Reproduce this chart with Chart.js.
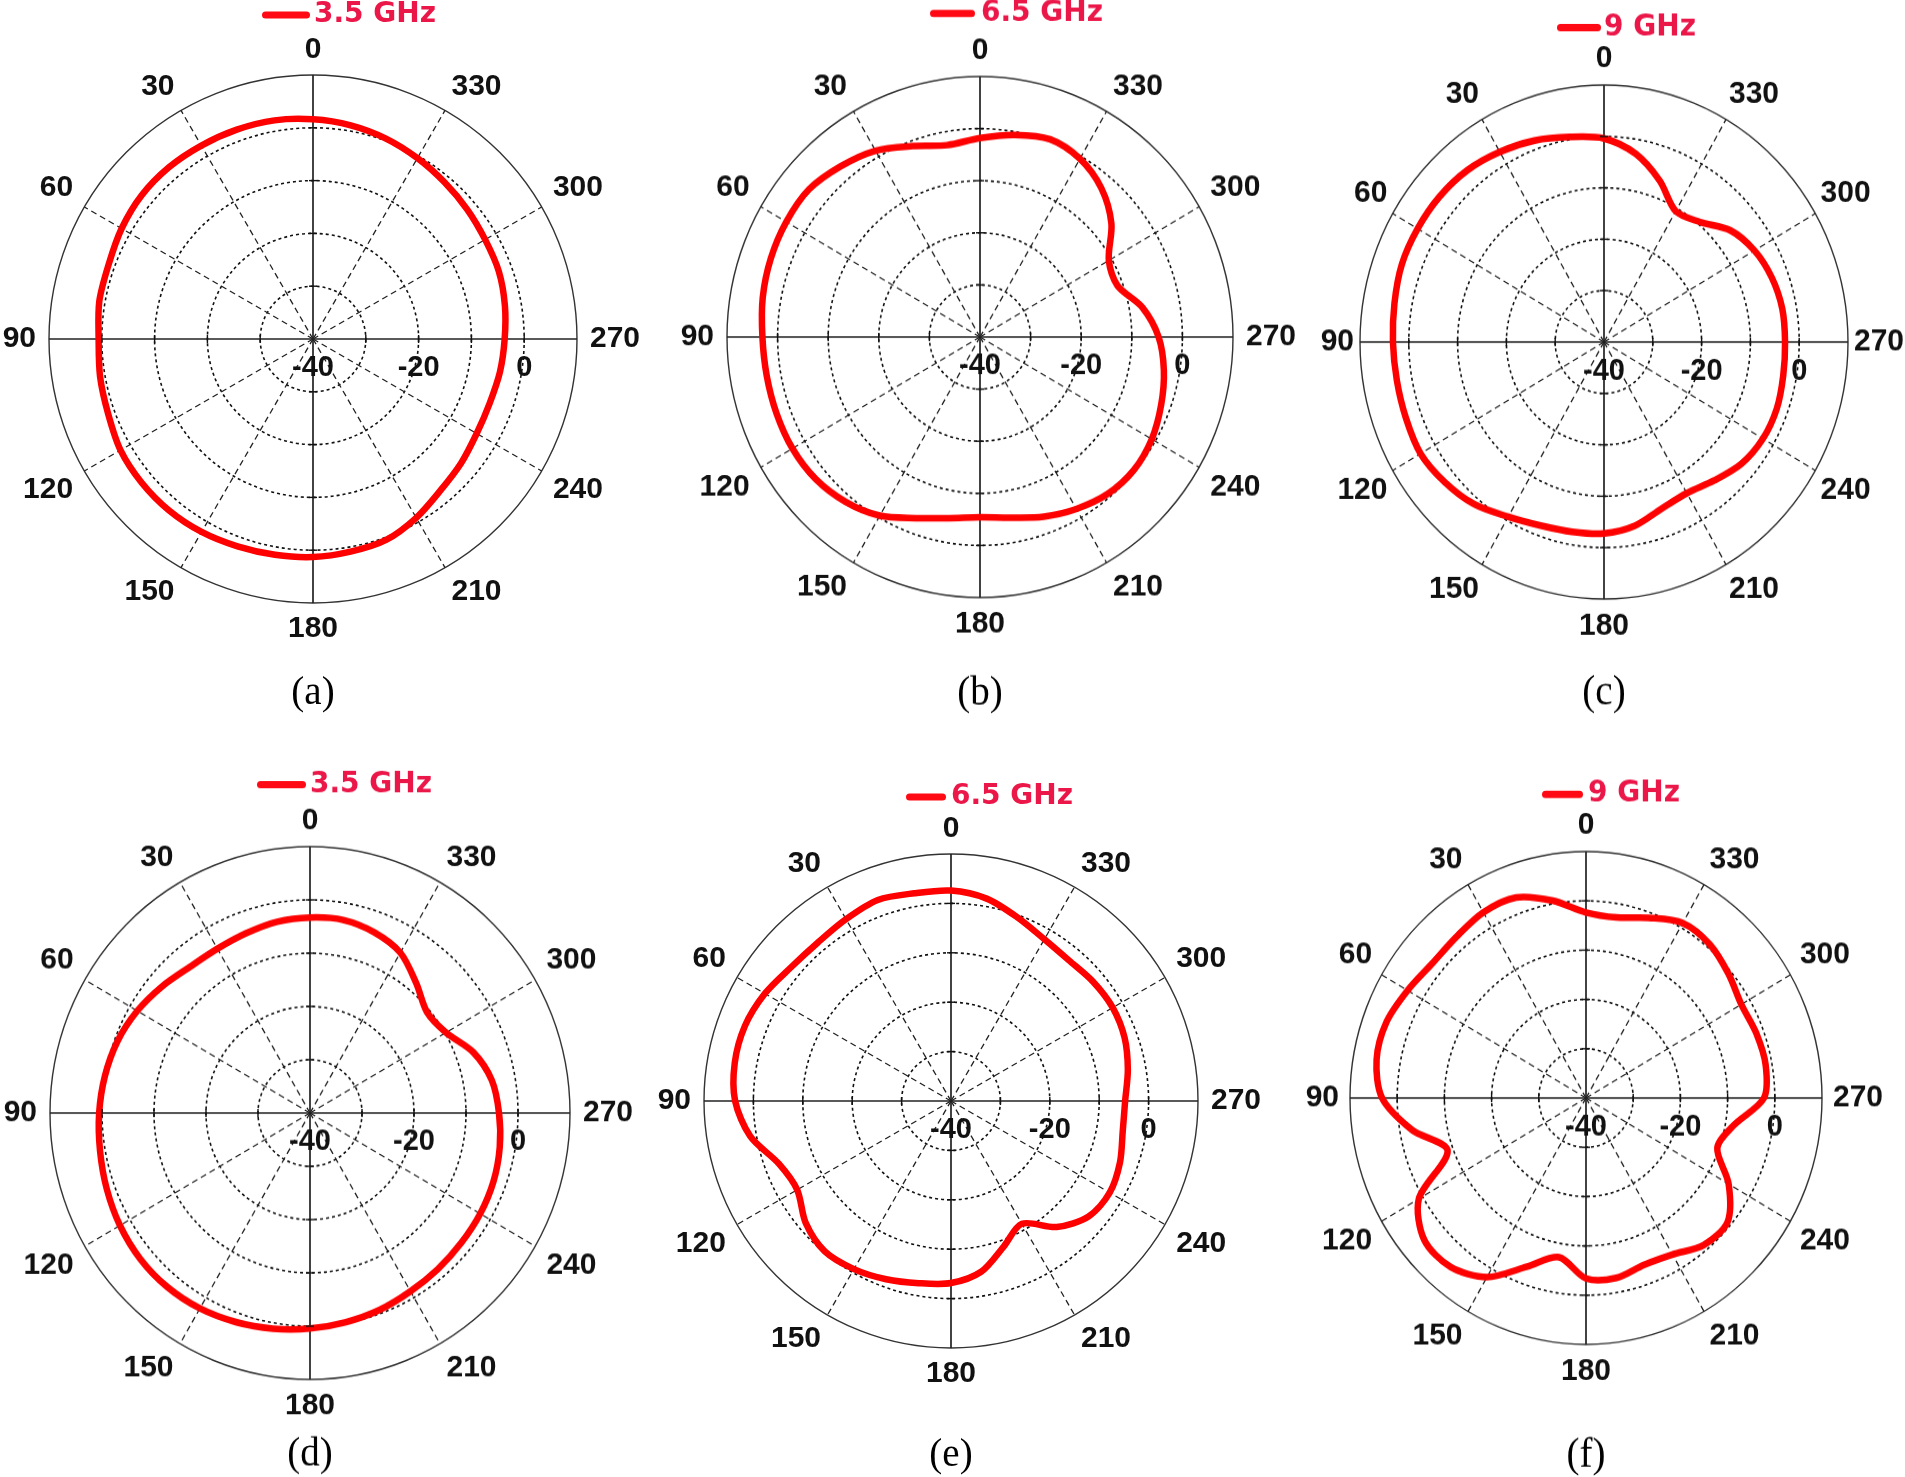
<!DOCTYPE html>
<html>
<head>
<meta charset="utf-8">
<script src="https://cdn.jsdelivr.net/npm/chart.js@4.4.1/dist/chart.umd.min.js"></script>
<style>
  html, body { margin: 0; padding: 0; background: #fff; overflow: hidden; }
  #page { position: relative; width: 1905px; height: 1477px; overflow: hidden; background: #fff; }
  .panel { position: absolute; }
  .panel canvas { display: block; }
</style>
</head>
<body>
<div id="page"></div>
<script>
// Angles in degrees, counter-clockwise from the top (0 = up, 90 = left, 270 = right)
const angles = [0, 10, 20, 30, 40, 50, 60, 70, 80, 90, 100, 110, 120, 130, 140, 150, 160, 170,
                180, 190, 200, 210, 220, 230, 240, 250, 260, 270, 280, 290, 300, 310, 320, 330, 340, 350];

const gainA = [1.6, 2.05, 2.2, 2.3, 2.45, 2.35, 1.85, 1.2, 1.1, 0.6, 0.95, 1.3, 2.1, 2.35, 2.4, 2.2, 1.8, 1.5,
               1.3, 0.9, 0.5, -0.9, -2.5, -3.4, -4.2, -4.4, -4.05, -3.7, -3.1, -2.55, -2.35, -1.85, -1.25, -0.45, 0.4, 1.1];
const gainB = [-1.8, -2.6, -1.0, 1.3, 2.8, 4.1, 4.2, 4.0, 3.6, 3.0, 2.8, 2.8, 2.8, 2.4, 1.3, -0.4, -3.0, -4.7,
               -5.4, -4.8, -3.3, -1.9, -0.7, -0.3, -0.8, -1.9, -3.1, -4.7, -7.4, -11.1, -10.6, -6.1, -2.7, -0.5, 0.4, -0.6];
const gainC = [-0.4, 0.5, 1.7, 2.7, 3.6, 4.0, 4.1, 4.1, 3.6, 3.25, 3.1, 3.2, 3.4, 2.5, 1.25, -0.75, -2.0, -2.5,
               -2.75, -3.7, -5.5, -6.05, -4.85, -3.2, -2.4, -2.3, -2.7, -2.9, -2.9, -3.4, -4.4, -6.2, -9.5, -10.6, -6.6, -2.8];
const gainD = [-3.3, -3.55, -4.1, -4.4, -4.15, -2.95, -1.65, -0.6, 0.05, 0.55, 1.0, 1.6, 2.2, 2.6, 2.65, 2.35, 1.75, 1.1,
               0.45, -0.15, -0.7, -1.35, -1.75, -2.05, -2.2, -2.45, -2.95, -3.65, -4.5, -6.6, -9.8, -10.6, -8.2, -5.25, -3.9, -3.2];
const gainE = [2.6, 2.7, 3.3, 2.5, 1.9, 2.2, 3.5, 4.4, 4.45, 3.7, 1.25, -2.9, -4.05, -1.6, -0.25, -0.7, -1.6, -2.55,
               -3.15, -4.9, -8.7, -11.3, -6.7, -3.65, -2.9, -3.6, -4.7, -4.75, -3.65, -2.6, -2.2, -2.45, -2.85, -2.2, -0.5, 1.6];
const gainF = [-2.35, 0.65, 3.3, 3.5, 2.7, 2.5, 3.65, 5.0, 5.05, 3.2, -2.6, -8.8, 0.9, 4.75, 4.7, 1.95, -3.6, -7.2,
               -3.4, -2.95, -4.0, -3.35, -1.1, -0.85, -5.1, -10.4, -8.2, -2.3, -1.35, -1.6, -2.0, -0.65, 0.75, 1.0, -1.1, -2.8];

const angleTicks = [0, 30, 60, 90, 120, 150, 180, 210, 240, 270, 300, 330];
const radialTicks = [-40, -20, 0];
const freqLabels = ['3.5 GHz', '6.5 GHz', '9 GHz', '3.5 GHz', '6.5 GHz', '9 GHz'];
const captions = ['(a)', '(b)', '(c)', '(d)', '(e)', '(f)'];
const series = [gainA, gainB, gainC, gainD, gainE, gainF];

const R_MIN = -40;
const R_MAX = 10;

// where each pattern sits on the page (centre, radii, legend and caption)
const panels = [
    { cx: 313, cy: 338.5, rx: 264, ry: 264, legY: 14.5, bar: [-51, -3], tx: 1, capY: 693.5, hGap: 13 },
    { cx: 979.5, cy: 336.5, rx: 253, ry: 260.5, legY: 13, bar: [-50, -5], tx: 1, capY: 693.5, hGap: 13 },
    { cx: 1604, cy: 342, rx: 244, ry: 257, legY: 27.7, bar: [-47, -3], tx: 0, capY: 693.5, hGap: 6 },
    { cx: 310, cy: 1113.3, rx: 260, ry: 266.4, legY: 785, bar: [-53, -4], tx: 0, capY: 1455.5, hGap: 13 },
    { cx: 950.5, cy: 1100.6, rx: 247, ry: 247, legY: 796.6, bar: [-45, -5], tx: 0, capY: 1455.5, hGap: 13 },
    { cx: 1586, cy: 1098, rx: 237, ry: 247.5, legY: 794.3, bar: [-44, -3], tx: 2, capY: 1455.5, hGap: 11 }
];

const MX = 62;
const TOP = 85;
const CAP_SIZE = 39;
const CAP_LH = CAP_SIZE * 1.2;

// the radar scale runs clockwise, the plots run counter-clockwise
const n = angles.length;
const displayAngles = angles.map((a, i) => angles[(n - i) % n]);
function toDisplay(arr) {
    return angles.map((a, i) => arr[(n - i) % n]);
}

const polarDecor = {
    id: 'polarDecor',
    afterDraw(chart, args, opts) {
        const s = chart.scales.r;
        const ctx = chart.ctx;
        const labels = chart.data.labels;
        const k = opts.k;
        ctx.save();

        // short ticks where the rings cross the main axes
        ctx.strokeStyle = '#111';
        ctx.lineWidth = 1.4;
        ctx.setLineDash([]);
        [0, 90, 180, 270].forEach(a => {
            const i = labels.indexOf(a);
            [-30, -20, -10, 0].forEach(v => {
                const p = s.getPointPosition(i, s.getDistanceFromCenterForValue(v));
                const dx = Math.cos(p.angle + Math.PI / 2) * 4;
                const dy = Math.sin(p.angle + Math.PI / 2) * 4;
                ctx.beginPath();
                ctx.moveTo(p.x - dx, p.y - dy);
                ctx.lineTo(p.x + dx, p.y + dy);
                ctx.stroke();
            });
        });

        // angle labels round the outer circle, aligned away from the centre
        ctx.fillStyle = '#111';
        ctx.textAlign = 'center';
        ctx.textBaseline = 'middle';
        ctx.font = 'bold 30px "Liberation Sans", Arial, sans-serif';
        angleTicks.forEach(a => {
            const i = labels.indexOf(a);
            const p = s.getPointPosition(i, s.drawingArea + 13);
            const ux = Math.cos(p.angle);
            const uy = Math.sin(p.angle);
            const w = ctx.measureText(String(a)).width;
            const x = p.x + ux * (opts.hGap - 13) + (Math.abs(ux) > 0.01 ? Math.sign(ux) * w / 2 : 0);
            const y = p.y + (Math.abs(uy) > 0.01 ? Math.sign(uy) * 12.5 : 0);
            ctx.fillText(String(a), x, y);
        });

        // dB labels under the right-hand axis
        ctx.font = 'bold 29px "Liberation Sans", Arial, sans-serif';
        const i270 = labels.indexOf(270);
        radialTicks.forEach(v => {
            const p = s.getPointPosition(i270, s.getDistanceFromCenterForValue(v));
            ctx.fillText(String(v), p.x, p.y + 29 / k);
        });

        // legend: red bar and frequency
        const ly = s.yCenter + opts.legDy / k;
        ctx.strokeStyle = '#ff0a14';
        ctx.lineWidth = 7;
        ctx.lineCap = 'round';
        ctx.beginPath();
        ctx.moveTo(s.xCenter + opts.bar[0] + 3.5, ly);
        ctx.lineTo(s.xCenter + opts.bar[1] - 3.5, ly);
        ctx.stroke();
        ctx.fillStyle = '#eb1749';
        ctx.textAlign = 'left';
        ctx.font = 'bold 28px "DejaVu Sans", Verdana, sans-serif';
        ctx.fillText(opts.text, s.xCenter + opts.tx, ly);

        ctx.restore();
    }
};

const page = document.getElementById('page');

panels.forEach((pn, idx) => {
    const k = pn.ry / pn.rx;
    const cxL = MX + pn.rx;
    const cyL = TOP + pn.rx;
    const W = 2 * cxL;
    const capGap = (pn.capY - pn.cy) / k - pn.rx - CAP_LH / 2;
    const used = TOP + 2 * pn.rx + capGap + CAP_LH;
    const H = Math.ceil(used) + 4;

    const wrap = document.createElement('div');
    wrap.className = 'panel';
    wrap.style.left = (pn.cx - cxL) + 'px';
    wrap.style.top = (pn.cy - cyL) + 'px';
    wrap.style.transformOrigin = cxL + 'px ' + cyL + 'px';
    wrap.style.transform = 'scaleY(' + k + ')';
    const canvas = document.createElement('canvas');
    canvas.width = W;
    canvas.height = H;
    wrap.appendChild(canvas);
    page.appendChild(wrap);

    new Chart(canvas.getContext('2d'), {
        type: 'radar',
        data: {
            labels: displayAngles,
            datasets: [{
                label: freqLabels[idx],
                data: toDisplay(series[idx]),
                borderColor: '#ff0000',
                backgroundColor: 'transparent',
                borderWidth: 6.5,
                pointRadius: 0,
                fill: false,
                tension: 0.3
            }]
        },
        options: {
            responsive: false,
            animation: false,
            devicePixelRatio: 1,
            layout: { padding: { top: TOP, left: MX, right: MX, bottom: 0 } },
            plugins: {
                legend: { display: false },
                tooltip: { enabled: false },
                title: {
                    display: true,
                    text: captions[idx],
                    position: 'bottom',
                    color: '#000',
                    font: { family: '"Liberation Serif", "Times New Roman", serif', size: CAP_SIZE, weight: 'normal', lineHeight: 1.2 },
                    padding: { top: capGap, bottom: H - used }
                },
                polarDecor: {
                    k: k,
                    legDy: pn.legY - pn.cy,
                    bar: pn.bar,
                    tx: pn.tx,
                    hGap: pn.hGap,
                    text: freqLabels[idx]
                }
            },
            scales: {
                r: {
                    min: R_MIN,
                    max: R_MAX,
                    ticks: { display: false, stepSize: 10 },
                    pointLabels: { display: false },
                    grid: {
                        circular: true,
                        color: c => (c.tick && c.tick.value === R_MAX ? '#333' : '#111'),
                        lineWidth: c => (c.tick && c.tick.value === R_MAX ? 1.4 : 1.6)
                    },
                    border: {
                        dash: c => (c.tick && c.tick.value === R_MAX ? [] : [3, 3])
                    },
                    angleLines: {
                        color: '#222',
                        lineWidth: c => {
                            const a = displayAngles[c.index];
                            if (a % 30 !== 0) return 0;
                            return a % 90 === 0 ? 1.7 : 1.3;
                        },
                        borderDash: c => (displayAngles[c.index] % 90 === 0 ? [] : [6, 4])
                    }
                }
            }
        },
        plugins: [polarDecor]
    });
});
</script>
</body>
</html>
